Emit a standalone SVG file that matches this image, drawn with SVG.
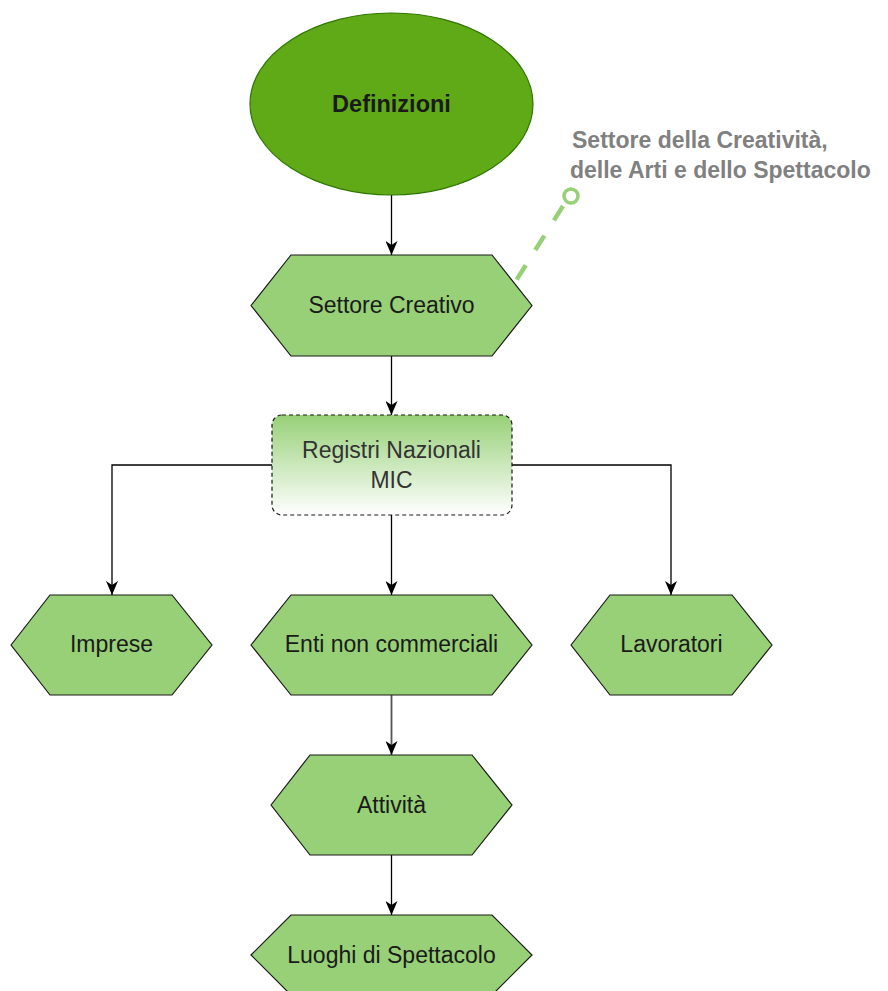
<svg xmlns="http://www.w3.org/2000/svg" width="888" height="991" viewBox="0 0 888 991">
<defs>
<style>
.hex{fill:#97D077;stroke:#1a1a1a;stroke-width:1.2}
.lbl{font-family:"Liberation Sans",Arial,sans-serif;font-size:23px;fill:#1a1a1a;text-anchor:middle;dominant-baseline:central}
.note{font-family:"Liberation Sans",Arial,sans-serif;font-size:23px;font-weight:bold;fill:#808080;dominant-baseline:central}
.edge{fill:none;stroke:#000;stroke-width:1.3}
</style>
<linearGradient id="g" x1="0" y1="0" x2="0" y2="1">
<stop offset="0" stop-color="#97D077"/>
<stop offset="1" stop-color="#ffffff"/>
</linearGradient>
<marker id="arr" viewBox="0 0 14 12" refX="14" refY="6" markerWidth="14" markerHeight="12" markerUnits="userSpaceOnUse" orient="auto">
<path d="M0,0 L14,6 L0,12 L4,6 Z" fill="#000"/>
</marker>
</defs>
<g id="connectors">
<line class="edge" x1="391.5" y1="195" x2="391.5" y2="255" marker-end="url(#arr)"/>
<line class="edge" x1="391.5" y1="356" x2="391.5" y2="415" marker-end="url(#arr)"/>
<polyline class="edge" points="272,465 112,465 112,595" marker-end="url(#arr)"/>
<polyline class="edge" points="512,465 671,465 671,595" marker-end="url(#arr)"/>
<line class="edge" x1="391.5" y1="515" x2="391.5" y2="595" marker-end="url(#arr)"/>
<line class="edge" x1="391.5" y1="695" x2="391.5" y2="755" style="stroke:#555;stroke-width:1.8" marker-end="url(#arr)"/>
<line class="edge" x1="391.5" y1="855" x2="391.5" y2="915" marker-end="url(#arr)"/>
<line x1="563" y1="206" x2="512" y2="287" stroke="#97D077" stroke-width="4.5" stroke-dasharray="17 18"/>
<circle cx="571" cy="196" r="7" fill="#fff" stroke="#97D077" stroke-width="3.5"/>
</g>
<g id="definizioni">
<ellipse cx="391.5" cy="104" rx="141.5" ry="91" fill="#60A917" stroke="#2D7600" stroke-width="1.2"/>
<text class="lbl" x="391.5" y="104" style="font-weight:bold;font-size:23.5px">Definizioni</text>
</g>
<g id="note">
<text class="note" x="572" y="140">Settore della Creatività,</text>
<text class="note" x="570" y="170">delle Arti e dello Spettacolo</text>
</g>
<g id="settore-creativo">
<polygon class="hex" points="251,305.5 291,255 492,255 532,305.5 492,356 291,356"/>
<text class="lbl" x="391.5" y="305">Settore Creativo</text>
</g>
<g id="registri">
<rect x="272" y="415" width="240" height="100" rx="10" fill="url(#g)" stroke="#1a1a1a" stroke-width="1.2" stroke-dasharray="4 3"/>
<text class="lbl" x="391.5" y="450" style="fill:#333">Registri Nazionali</text>
<text class="lbl" x="391.5" y="480" style="fill:#333">MIC</text>
</g>
<g id="imprese">
<polygon class="hex" points="11,645 50,595 172,595 212,645 172,695 50,695"/>
<text class="lbl" x="111.5" y="644">Imprese</text>
</g>
<g id="enti">
<polygon class="hex" points="251,645 291,595 492,595 532,645 492,695 291,695"/>
<text class="lbl" x="391.5" y="644">Enti non commerciali</text>
</g>
<g id="lavoratori">
<polygon class="hex" points="571,645 610,595 732,595 772,645 732,695 610,695"/>
<text class="lbl" x="671.5" y="644">Lavoratori</text>
</g>
<g id="attivita">
<polygon class="hex" points="271,805 310,755 472,755 512,805 472,855 310,855"/>
<text class="lbl" x="391.5" y="805">Attività</text>
</g>
<g id="luoghi">
<polygon class="hex" points="251,955 291,915 492,915 532,955 492,995 291,995"/>
<text class="lbl" x="391.5" y="955">Luoghi di Spettacolo</text>
</g>
</svg>
